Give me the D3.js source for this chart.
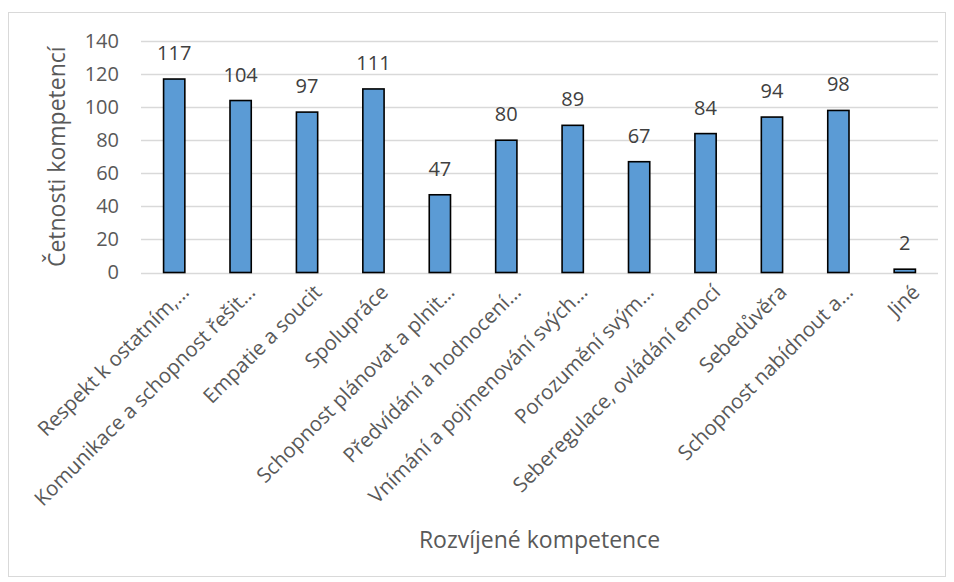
<!DOCTYPE html>
<html>
<head>
<meta charset="UTF-8">
<title>Rozvíjené kompetence</title>
<script src="https://d3js.org/d3.v7.min.js"></script>
<style>
  body { margin: 0; background: #fff; }
  svg { display: block; font-family: "Open Sans", sans-serif; }
</style>
</head>
<body>
<svg width="954" height="582"></svg>
<script>
// data
var categories = ['Respekt k ostatním,…', 'Komunikace a schopnost řešit…', 'Empatie a soucit',
  'Spolupráce', 'Schopnost plánovat a plnit…', 'Předvídání a hodnocení…',
  'Vnímání a pojmenování svých…', 'Porozumění svým…', 'Seberegulace, ovládání emocí',
  'Sebedůvěra', 'Schopnost nabídnout a…', 'Jiné'];
var values = [117, 104, 97, 111, 47, 80, 89, 67, 84, 94, 98, 2];
var yTicks = [0, 20, 40, 60, 80, 100, 120, 140];

var svg = d3.select('svg');
var margin = {top: 41, right: 16, bottom: 309.5, left: 141};
var W = +svg.attr('width'), H = +svg.attr('height');

// chart frame
svg.append('rect')
  .attr('x', 8.5).attr('y', 12.5)
  .attr('width', W - 17).attr('height', H - 18)
  .attr('fill', 'none').attr('stroke', '#d9d9d9');

var x = d3.scaleBand()
  .domain(categories)
  .range([margin.left, W - margin.right])
  .paddingInner(0.68).paddingOuter(0.34);

var y = d3.scaleLinear()
  .domain([0, 140])
  .range([H - margin.bottom, margin.top]);

// grid lines
svg.append('g')
  .selectAll('line')
  .data(yTicks)
  .join('line')
  .attr('x1', margin.left).attr('x2', W - margin.right)
  .attr('y1', function(d) { return Math.round(y(d)) + 0.5; })
  .attr('y2', function(d) { return Math.round(y(d)) + 0.5; })
  .attr('stroke', '#d9d9d9').attr('stroke-width', 1.3);

// y axis labels
var yAxis = d3.axisLeft(y).tickValues(yTicks).tickSize(0).tickPadding(0);
var gy = svg.append('g')
  .attr('transform', 'translate(119,0)')
  .call(yAxis);
gy.select('.domain').remove();
gy.selectAll('text')
  .attr('font-size', 20)
  .attr('font-family', '"Open Sans", sans-serif')
  .attr('fill', '#595959');

// bars
svg.append('g')
  .selectAll('rect')
  .data(values)
  .join('rect')
  .attr('x', function(d, i) { return x(categories[i]); })
  .attr('y', function(d) { return y(d); })
  .attr('width', x.bandwidth())
  .attr('height', function(d) { return y(0) - y(d); })
  .attr('fill', '#5b9bd5')
  .attr('stroke', '#000')
  .attr('stroke-width', 1.6);

// value labels
svg.append('g')
  .selectAll('text')
  .data(values)
  .join('text')
  .attr('x', function(d, i) { return x(categories[i]) + x.bandwidth() / 2; })
  .attr('y', function(d) { return y(d) - 19; })
  .attr('text-anchor', 'middle')
  .attr('font-size', 20)
  .attr('fill', '#404040')
  .text(function(d) { return d; });

// x axis (category labels)
var xAxis = d3.axisBottom(x).tickSize(0).tickPadding(0);
var gx = svg.append('g')
  .attr('transform', 'translate(0,' + (H - margin.bottom) + ')')
  .call(xAxis);
gx.select('.domain').remove();
gx.selectAll('text')
  .attr('font-size', 20.5)
  .attr('font-family', '"Open Sans", sans-serif')
  .attr('fill', '#595959')
  .attr('text-anchor', 'end')
  .attr('dy', null)
  .attr('y', 0)
  .attr('transform', 'translate(16,21) rotate(-45)');

// axis titles
svg.append('text')
  .attr('x', (margin.left + W - margin.right) / 2)
  .attr('y', 548)
  .attr('text-anchor', 'middle')
  .attr('font-size', 23)
  .attr('fill', '#595959')
  .text('Rozvíjené kompetence');

svg.append('text')
  .attr('transform', 'translate(65,' + ((margin.top + H - margin.bottom) / 2) + ') rotate(-90)')
  .attr('text-anchor', 'middle')
  .attr('font-size', 23)
  .attr('fill', '#595959')
  .text('Četnosti kompetencí');
</script>
</body>
</html>
